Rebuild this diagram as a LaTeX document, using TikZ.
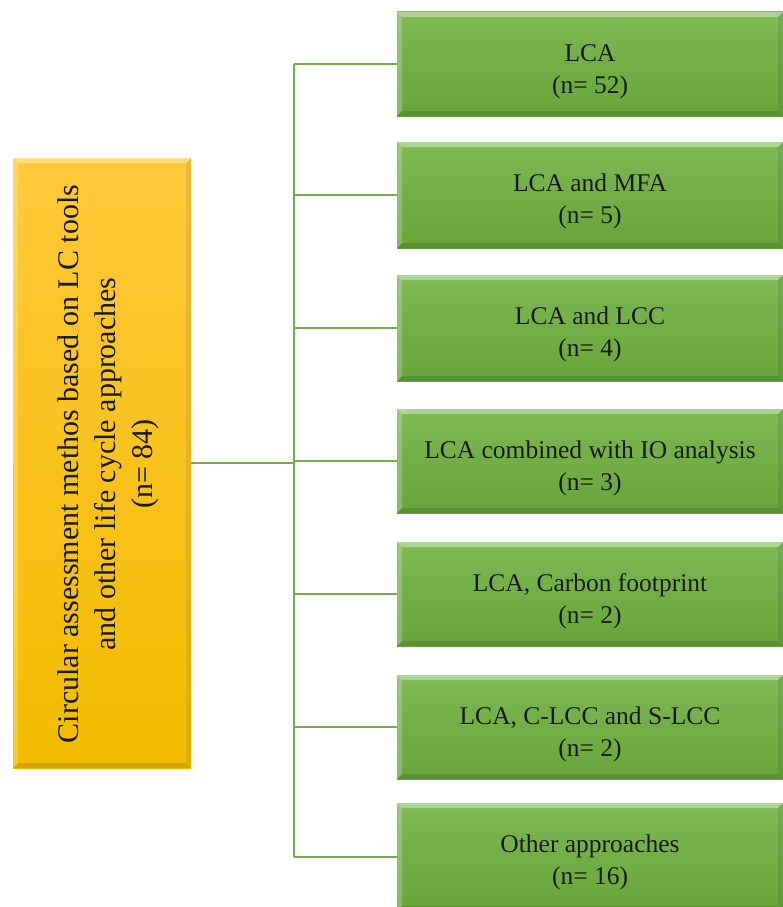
\documentclass[tikz,border=0pt]{standalone}
\usepackage{fontspec}
\setmainfont{Liberation Serif}
\usetikzlibrary{calc}

\definecolor{greentop}{RGB}{126,185,84}
\definecolor{greenbot}{RGB}{103,165,58}
\definecolor{yellowtop}{RGB}{255,201,58}
\definecolor{yellowbot}{RGB}{242,188,0}
\definecolor{linkgreen}{RGB}{118,171,80}
\definecolor{inktext}{RGB}{25,25,20}

\tikzset{
  bevel/.style={path picture={
    \path (path picture bounding box.north west) coordinate (q1)
          (path picture bounding box.north east) coordinate (q2)
          (path picture bounding box.south east) coordinate (q3)
          (path picture bounding box.south west) coordinate (q4);
    \fill[white,opacity=.38] (q1) -- (q2) -- ([shift={(-#1,-#1)}]q2) -- ([shift={(#1,-#1)}]q1) -- cycle;
    \fill[white,opacity=.22] (q1) -- ([shift={(#1,-#1)}]q1) -- ([shift={(#1,#1)}]q4) -- (q4) -- cycle;
    \fill[black,opacity=.12] (q4) -- ([shift={(#1,#1)}]q4) -- ([shift={(-#1,#1)}]q3) -- (q3) -- cycle;
    \fill[black,opacity=.07] (q2) -- (q3) -- ([shift={(-#1,#1)}]q3) -- ([shift={(-#1,-#1)}]q2) -- cycle;
  }},
  catbox/.style={rectangle, inner sep=0pt, outer sep=0pt, minimum width=386pt,
    top color=greentop, bottom color=greenbot, bevel=5pt},
  mainbox/.style={rectangle, inner sep=0pt, outer sep=0pt, minimum width=178pt,
    minimum height=610pt, top color=yellowtop, bottom color=yellowbot, bevel=5pt},
  cattext/.style={anchor=base, inner sep=0pt, text=inktext,
    font=\fontsize{25.5}{30}\selectfont},
  rottext/.style={anchor=base, rotate=90, inner sep=0pt, text=inktext,
    font=\fontsize{30}{36}\selectfont},
  link/.style={draw=linkgreen, line width=1.8pt},
}

\begin{document}
\begin{tikzpicture}[x=1pt,y=-1pt]
\useasboundingbox (0,0) rectangle (782,907);
\fill[white] (0,0) rectangle (782,907);

% trunk position of the tree connector
\coordinate (spine) at (294,463);

% root box with its rotated title
\node[mainbox, anchor=north west] (main) at (13,158) {};
\node[rottext] (m1) at (78,464) {Circular assessment methos based on LC tools};
\node[rottext] (m2) at (115,464) {and other life cycle approaches};
\node[rottext] (m3) at (152,464) {(n= 84)};

% category boxes (the last one runs past the lower page edge)
\foreach \bname/\btop/\bhgt/\blabel/\bcount in {
    b1/12/104/{LCA}/52,
    b2/142/106/{LCA and MFA}/5,
    b3/275/106/{LCA and LCC}/4,
    b4/409/104/{LCA combined with IO analysis}/3,
    b5/542/104/{LCA, Carbon footprint}/2,
    b6/675/104/{LCA, C-LCC and S-LCC}/2,
    b7/803/108/{Other approaches}/16}{
  \node[catbox, minimum height=\bhgt pt, anchor=north west] (\bname) at (397,\btop) {};
  \node[cattext] (\bname-a) at ([yshift=-49.5pt]\bname.north) {\blabel};
  \node[cattext] (\bname-b) at ([yshift=-81pt]\bname.north) {(n= \bcount)};
}

% connectors
\draw[link] (main.east) -- (main.east -| spine);
\draw[link] (b1.west -| spine) -- (b7.west -| spine);
\foreach \bname in {b1,b2,b3,b4,b5,b6,b7}
  \draw[link] (\bname.west -| spine) -- (\bname.west);
\end{tikzpicture}
\end{document}
